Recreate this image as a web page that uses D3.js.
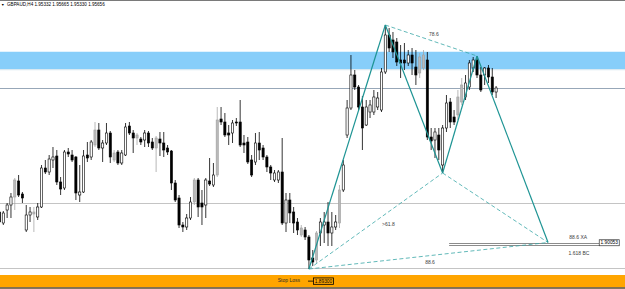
<!DOCTYPE html>
<html>
<head>
<meta charset="utf-8">
<script src="https://cdn.jsdelivr.net/npm/d3@7/dist/d3.min.js"></script>
<style>
  html, body { margin: 0; padding: 0; background: #fff; }
  svg { display: block; font-family: 'Liberation Sans', Arial, sans-serif; }
</style>
</head>
<body>
<div id="chart"></div>
<script>
// GBPAUD H4 candles, oldest first
const opens = [
  1.9129, 1.9085, 1.9137, 1.9157, 1.9189, 1.9253, 1.9201, 1.9057, 1.9117, 1.9121,
  1.9109, 1.9149, 1.9305, 1.9289, 1.9337, 1.9353, 1.9249, 1.9225, 1.9369, 1.9357,
  1.9349, 1.9197, 1.9209, 1.9357, 1.9349, 1.9397, 1.9457, 1.9385, 1.9405, 1.9445,
  1.9337, 1.9369, 1.9325, 1.9357, 1.9473, 1.9445, 1.9425, 1.9421, 1.9417, 1.9445,
  1.9409, 1.9385, 1.9421, 1.9405, 1.9385, 1.9373, 1.9245, 1.9185, 1.9077, 1.9069,
  1.9105, 1.9169, 1.9257, 1.9165, 1.9157, 1.9253, 1.9237, 1.9277, 1.9501, 1.9489,
  1.9445, 1.9445, 1.9489, 1.9489, 1.9405, 1.9409, 1.9337, 1.9329, 1.9405, 1.9385,
  1.9349, 1.9309, 1.9257, 1.9257, 1.9289, 1.9085, 1.9177, 1.9129, 1.9089, 1.9037,
  1.9057, 1.9029, 1.8945, 1.8937, 1.9045, 1.9077, 1.9089, 1.9045, 1.9069, 1.9085,
  1.9217, 1.9437, 1.9545, 1.9677, 1.9629, 1.9549, 1.9477, 1.9529, 1.9529, 1.9549,
  1.9537, 1.9689, 1.9837, 1.9817, 1.9809, 1.9737, 1.9737, 1.9725, 1.9757, 1.9709,
  1.9685, 1.9705, 1.9737, 1.9429, 1.9417, 1.9437, 1.9317, 1.9465, 1.9569, 1.9509,
  1.9517, 1.9569, 1.9589, 1.9629, 1.9705, 1.9737, 1.9677, 1.9677, 1.9705, 1.9669,
  1.9609
];
const highs = [
  1.9145, 1.9133, 1.9165, 1.9205, 1.9265, 1.9277, 1.9209, 1.9157, 1.9149, 1.9149,
  1.9165, 1.9317, 1.9337, 1.9357, 1.9389, 1.9377, 1.9269, 1.9377, 1.9385, 1.9377,
  1.9353, 1.9317, 1.9377, 1.9409, 1.9417, 1.9489, 1.9485, 1.9417, 1.9485, 1.9453,
  1.9377, 1.9377, 1.9377, 1.9485, 1.9489, 1.9457, 1.9445, 1.9429, 1.9457, 1.9453,
  1.9425, 1.9433, 1.9449, 1.9449, 1.9397, 1.9377, 1.9257, 1.9197, 1.9089, 1.9121,
  1.9189, 1.9265, 1.9265, 1.9217, 1.9265, 1.9345, 1.9325, 1.9549, 1.9549, 1.9525,
  1.9477, 1.9497, 1.9505, 1.9577, 1.9437, 1.9429, 1.9357, 1.9445, 1.9449, 1.9397,
  1.9357, 1.9317, 1.9297, 1.9297, 1.9425, 1.9205, 1.9205, 1.9149, 1.9105, 1.9077,
  1.9069, 1.9037, 1.8977, 1.9053, 1.9105, 1.9129, 1.9169, 1.9129, 1.9117, 1.9237,
  1.9337, 1.9577, 1.9757, 1.9697, 1.9637, 1.9593, 1.9577, 1.9577, 1.9617, 1.9609,
  1.9705, 1.9877, 1.9865, 1.9849, 1.9825, 1.9797, 1.9805, 1.9777, 1.9785, 1.9777,
  1.9765, 1.9777, 1.9769, 1.9465, 1.9465, 1.9465, 1.9477, 1.9597, 1.9585, 1.9537,
  1.9617, 1.9665, 1.9677, 1.9737, 1.9749, 1.9753, 1.9709, 1.9709, 1.9717, 1.9705,
  1.9633
];
const lows = [
  1.9077, 1.9077, 1.9105, 1.9105, 1.9137, 1.9189, 1.9165, 1.9049, 1.9089, 1.9049,
  1.9097, 1.9145, 1.9281, 1.9277, 1.9305, 1.9237, 1.9197, 1.9217, 1.9349, 1.9329,
  1.9177, 1.9169, 1.9205, 1.9329, 1.9337, 1.9389, 1.9377, 1.9329, 1.9397, 1.9325,
  1.9329, 1.9317, 1.9317, 1.9353, 1.9437, 1.9365, 1.9397, 1.9397, 1.9389, 1.9389,
  1.9377, 1.9289, 1.9353, 1.9349, 1.9357, 1.9217, 1.9169, 1.9065, 1.9049, 1.9057,
  1.9097, 1.9157, 1.9109, 1.9077, 1.9105, 1.9233, 1.9229, 1.9269, 1.9477, 1.9429,
  1.9397, 1.9405, 1.9473, 1.9389, 1.9365, 1.9321, 1.9269, 1.9317, 1.9337, 1.9337,
  1.9289, 1.9257, 1.9249, 1.9245, 1.9077, 1.9049, 1.9085, 1.9045, 1.9037, 1.9029,
  1.9017, 1.8901, 1.8913, 1.8925, 1.8993, 1.9005, 1.8993, 1.8993, 1.9057, 1.9065,
  1.9209, 1.9425, 1.9537, 1.9617, 1.9537, 1.9377, 1.9473, 1.9505, 1.9517, 1.9537,
  1.9529, 1.9681, 1.9769, 1.9745, 1.9713, 1.9665, 1.9697, 1.9713, 1.9677, 1.9637,
  1.9665, 1.9697, 1.9417, 1.9377, 1.9345, 1.9337, 1.9285, 1.9449, 1.9465, 1.9477,
  1.9497, 1.9557, 1.9577, 1.9617, 1.9689, 1.9665, 1.9609, 1.9637, 1.9645, 1.9597,
  1.9585
];
const closes = [
  1.9089, 1.9125, 1.9157, 1.9189, 1.9257, 1.9197, 1.9185, 1.9117, 1.9129, 1.9129,
  1.9149, 1.9305, 1.9289, 1.9341, 1.9349, 1.9249, 1.9221, 1.9369, 1.9361, 1.9337,
  1.9205, 1.9209, 1.9353, 1.9345, 1.9409, 1.9457, 1.9385, 1.9405, 1.9445, 1.9349,
  1.9365, 1.9325, 1.9365, 1.9469, 1.9445, 1.9425, 1.9437, 1.9409, 1.9445, 1.9405,
  1.9385, 1.9425, 1.9405, 1.9377, 1.9369, 1.9245, 1.9177, 1.9077, 1.9069, 1.9105,
  1.9169, 1.9257, 1.9149, 1.9149, 1.9257, 1.9241, 1.9277, 1.9497, 1.9489, 1.9437,
  1.9437, 1.9485, 1.9485, 1.9397, 1.9397, 1.9329, 1.9277, 1.9405, 1.9377, 1.9349,
  1.9309, 1.9285, 1.9285, 1.9289, 1.9085, 1.9177, 1.9125, 1.9085, 1.9057, 1.9065,
  1.9029, 1.8937, 1.8929, 1.9045, 1.9089, 1.9089, 1.9045, 1.9069, 1.9089, 1.9217,
  1.9317, 1.9545, 1.9677, 1.9629, 1.9549, 1.9465, 1.9549, 1.9557, 1.9589, 1.9585,
  1.9689, 1.9837, 1.9785, 1.9769, 1.9729, 1.9725, 1.9725, 1.9757, 1.9725, 1.9677,
  1.9749, 1.9757, 1.9429, 1.9413, 1.9449, 1.9377, 1.9465, 1.9565, 1.9489, 1.9489,
  1.9589, 1.9637, 1.9645, 1.9725, 1.9737, 1.9677, 1.9617, 1.9705, 1.9669, 1.9609,
  1.9625
];
// bars shown with the grey fill
const greyBars = [4, 9, 25, 30, 36, 41, 51, 57, 79, 83, 89, 110, 111, 120, 121];

// XABCD pattern (bar index, price)
const patternNames = ['X', 'A', 'B', 'C', 'D'];
const patternBars = [81, 101, 116, 125, 143.6];
const patternPrices = [1.8901, 1.9877, 1.9285, 1.9753, 1.9007];

// horizontal objects
const blueZone = [1.9700, 1.9770];
const stopZone = [1.8828, 1.8877];
const plainLines = [1.9624, 1.9164, 1.8906];
const targetLines = [1.9006, 1.8997];
const targetSpan = [117.7, 157];

// texts
const headerText = 'GBPAUD,H4 1.95332 1.95665 1.95330 1.95656';
const stopText = 'Stop Loss';
const stopPrice = '1.89300';
const targetPrice = '1.90053';
const ratioTexts = ['78.6', '>61.8', '88.6', '88.6 XA', '1.618 BC'];

const W = 625, H = 289;
const TEAL = '#1e9494';

const svg = d3.select('#chart').append('svg')
    .attr('width', W)
    .attr('height', H);

svg.append('rect').attr('width', W).attr('height', H).attr('fill', '#fff');

// Scales: bar index -> x, price -> y
const x = d3.scaleLinear().domain([0, opens.length - 1]).range([-0.5, 496.1]);
const y = d3.scaleLinear().domain([1.8821, 1.9977]).range([H, 0]);

// Zones
svg.append('rect')
    .attr('x', 0).attr('width', W)
    .attr('y', y(blueZone[1]))
    .attr('height', y(blueZone[0]) - y(blueZone[1]))
    .attr('fill', '#87cefa');
svg.append('line')
    .attr('x1', 0).attr('x2', W)
    .attr('y1', y(blueZone[0]) + 0.5).attr('y2', y(blueZone[0]) + 0.5)
    .attr('stroke', '#d6e6ee').attr('stroke-width', 1);

svg.append('rect')
    .attr('x', 0).attr('width', W)
    .attr('y', y(stopZone[1]))
    .attr('height', y(stopZone[0]) - y(stopZone[1]))
    .attr('fill', '#ffa500');
svg.append('rect')
    .attr('x', 0).attr('width', W)
    .attr('y', y(stopZone[0]))
    .attr('height', 1.5)
    .attr('fill', '#5b4a2c');

// Plain horizontal lines
svg.selectAll('.hline')
    .data(plainLines)
    .enter().append('line')
    .attr('class', 'hline')
    .attr('x1', 0).attr('x2', W)
    .attr('y1', d => Math.round(y(d)) + 0.5)
    .attr('y2', d => Math.round(y(d)) + 0.5)
    .attr('stroke', (d, i) => i === 0 ? '#97a7b8' : '#c4c4c4')
    .attr('stroke-width', 1);

// Target double line
svg.selectAll('.tline')
    .data(targetLines)
    .enter().append('line')
    .attr('class', 'tline')
    .attr('x1', x(targetSpan[0])).attr('x2', x(targetSpan[1]))
    .attr('y1', d => Math.round(y(d)) + 0.5)
    .attr('y2', d => Math.round(y(d)) + 0.5)
    .attr('stroke', '#8c8c8c')
    .attr('stroke-width', 1);

// Candles
const bars = d3.range(opens.length).map(i => ({
    i, o: opens[i], h: highs[i], l: lows[i], c: closes[i],
    grey: greyBars.includes(i)
}));

const g = svg.append('g');
const bodyW = 2.2;

g.selectAll('.wick')
    .data(bars)
    .enter().append('line')
    .attr('class', 'wick')
    .attr('x1', d => x(d.i)).attr('x2', d => x(d.i))
    .attr('y1', d => y(d.h)).attr('y2', d => y(d.l))
    .attr('stroke', d => d.grey ? '#a6a6a6' : '#000')
    .attr('stroke-width', 0.8);

g.selectAll('.body')
    .data(bars)
    .enter().append('rect')
    .attr('class', 'body')
    .attr('x', d => x(d.i) - bodyW / 2)
    .attr('width', bodyW)
    .attr('y', d => y(Math.max(d.o, d.c)))
    .attr('height', d => Math.max(0.8, Math.abs(y(d.o) - y(d.c))))
    .attr('fill', d => d.grey ? '#b9b9b9' : (d.c >= d.o ? '#fff' : '#000'))
    .attr('stroke', d => d.grey ? '#a0a0a0' : '#000')
    .attr('stroke-width', 0.6);

// Harmonic pattern
const pts = patternBars.map((b, k) => ({ name: patternNames[k], px: x(b), py: y(patternPrices[k]) }));
const P = Object.fromEntries(pts.map(p => [p.name, p]));

const seg = (a, b, dashed) => svg.append('line')
    .attr('x1', P[a].px).attr('y1', P[a].py)
    .attr('x2', P[b].px).attr('y2', P[b].py)
    .attr('stroke', dashed ? '#3aa7a7' : TEAL)
    .attr('stroke-width', dashed ? 0.8 : 1.2)
    .attr('stroke-dasharray', dashed ? '4,2.5' : null);

seg('X', 'B', true);
seg('A', 'C', true);
seg('B', 'D', true);
seg('X', 'D', true);
seg('X', 'A', false);
seg('A', 'B', false);
seg('B', 'C', false);
seg('C', 'D', false);

// Ratio labels
const label = (txt, bi, price, anchor) => svg.append('text')
    .attr('x', x(bi)).attr('y', y(price))
    .attr('text-anchor', anchor || 'middle')
    .attr('dominant-baseline', 'middle')
    .style('font-size', '5px')
    .style('fill', '#3c3c3c')
    .text(txt);

label(ratioTexts[0], 113.7, 1.9837);
label(ratioTexts[1], 101.8, 1.9079);
label(ratioTexts[2], 112.7, 1.8925);
label(ratioTexts[3], 151.5, 1.9027);
label(ratioTexts[4], 151.7, 1.8961);

// Target price box
const tb = svg.append('g').attr('transform', `translate(${x(157)},${y(targetLines[0])})`);
tb.append('rect')
    .attr('x', 0).attr('y', -3).attr('width', 20).attr('height', 6)
    .attr('fill', '#fff').attr('stroke', '#333').attr('stroke-width', 0.7);
tb.append('text')
    .attr('x', 10).attr('y', 0.2)
    .attr('text-anchor', 'middle').attr('dominant-baseline', 'middle')
    .style('font-size', '4.8px').style('fill', '#000')
    .text(targetPrice);

// Stop loss tag inside the orange zone
const sy = y((stopZone[0] + stopZone[1]) / 2);
svg.append('text')
    .attr('x', 300).attr('y', sy)
    .attr('text-anchor', 'end').attr('dominant-baseline', 'middle')
    .style('font-size', '5px').style('fill', '#2a2a2a')
    .text(stopText);
svg.append('line')
    .attr('x1', 308).attr('x2', 313.5)
    .attr('y1', sy).attr('y2', sy)
    .attr('stroke', '#000').attr('stroke-width', 0.8);
svg.append('rect')
    .attr('x', 313.5).attr('y', sy - 3.2).attr('width', 20).attr('height', 6.4)
    .attr('fill', 'none').attr('stroke', '#000').attr('stroke-width', 0.8);
svg.append('text')
    .attr('x', 323.5).attr('y', sy + 0.2)
    .attr('text-anchor', 'middle').attr('dominant-baseline', 'middle')
    .style('font-size', '4.8px').style('fill', '#000')
    .text(stopPrice);

// Header
svg.append('rect').attr('x', 0).attr('y', 0).attr('width', W).attr('height', 1).attr('fill', '#7a7a7a');
svg.append('text')
    .attr('x', 1).attr('y', 5.2)
    .attr('dominant-baseline', 'middle')
    .style('font-size', '3.6px').style('fill', '#000')
    .text('▼');
svg.append('text')
    .attr('x', 7).attr('y', 5.2)
    .attr('dominant-baseline', 'middle')
    .style('font-size', '4.6px').style('fill', '#000')
    .text(headerText);
</script>
</body>
</html>
